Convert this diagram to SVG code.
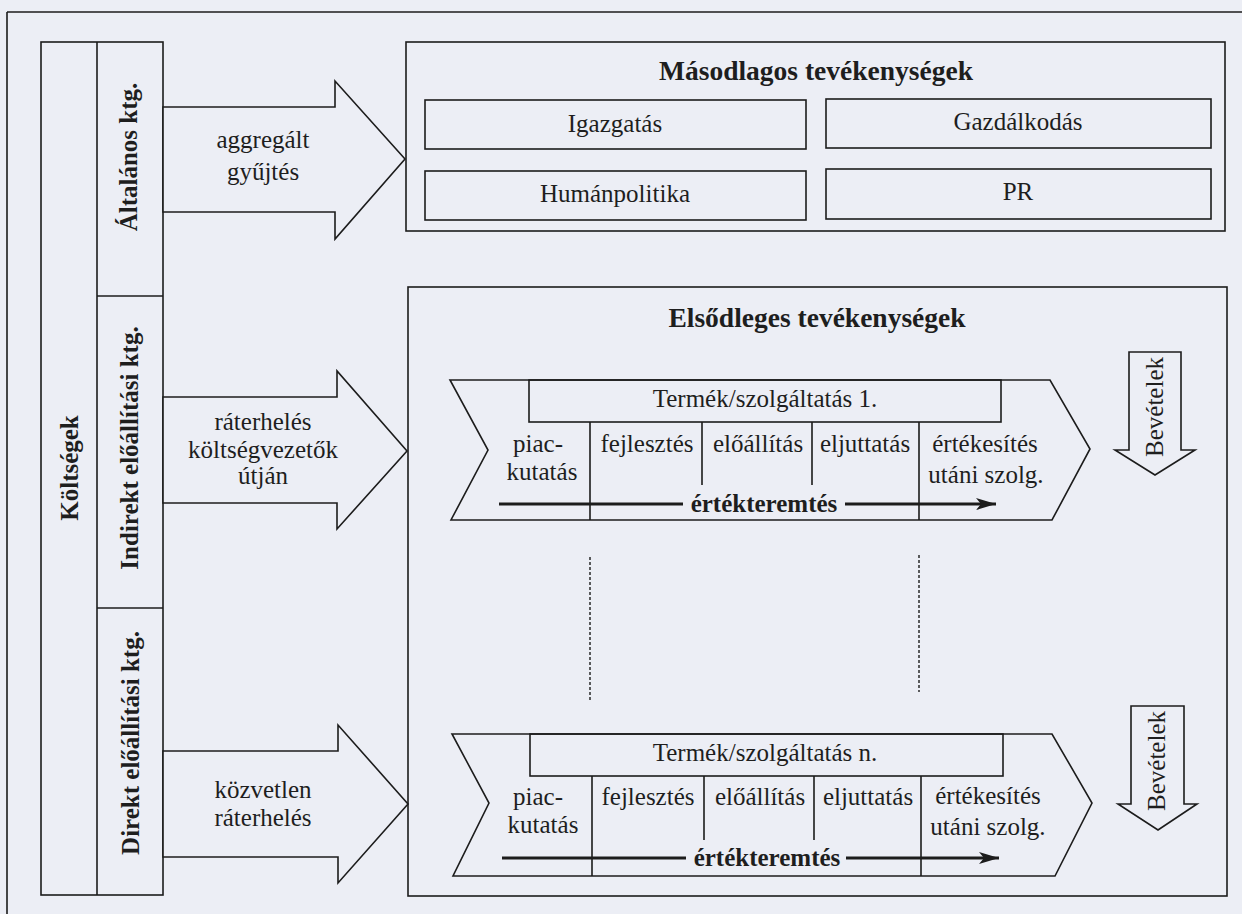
<svg xmlns="http://www.w3.org/2000/svg" width="1242" height="914" viewBox="0 0 1242 914">
<defs>
<style>
.ln{fill:none;stroke:#1c1c1c;stroke-width:1.6}
.sh{fill:#eceef5;stroke:#1c1c1c;stroke-width:1.6;stroke-linejoin:miter}
.t{font-family:"Liberation Serif","Times New Roman",serif;font-size:25px;fill:#1e1e1e;text-anchor:middle}
.b{font-weight:bold}
.h{font-size:27.5px}
.dot{fill:none;stroke:#1c1c1c;stroke-width:1.4;stroke-dasharray:3 2}
.vt{fill:none;stroke:#1c1c1c;stroke-width:3}
</style>
<marker id="ah" viewBox="0 0 20 12" refX="20" refY="6" markerWidth="20" markerHeight="12" markerUnits="userSpaceOnUse" orient="auto">
<path d="M0,0 L20,6 L0,12 L5,6 Z" fill="#1c1c1c"/>
</marker>
</defs>
<rect x="0" y="0" width="1242" height="914" fill="#eceef5"/>
<g id="frame">
<path class="ln" d="M7,12 L1242,12 M7,12 L7,914"/>
</g>
<g id="koltsegek">
<rect class="ln" x="41" y="42" width="122" height="853"/>
<line class="ln" x1="97" y1="42" x2="97" y2="895"/>
<text class="t b" transform="translate(78,468) rotate(-90)">Költségek</text>
</g>
<g id="altalanos">
<line class="ln" x1="97" y1="296" x2="163" y2="296"/>
<text class="t b" transform="translate(137,157) rotate(-90)">Általános ktg.</text>
</g>
<g id="indirekt">
<line class="ln" x1="97" y1="608" x2="163" y2="608"/>
<text class="t b" transform="translate(138,448) rotate(-90)">Indirekt előállítási ktg.</text>
</g>
<g id="direkt">
<text class="t b" transform="translate(139,743) rotate(-90)">Direkt előállítási ktg.</text>
</g>
<g id="connectors">
<g id="arrow-aggregalt">
<polygon class="sh" points="163,107 335,107 335,81 405,159 335,239 335,212 163,212"/>
<text class="t" x="263" y="148">aggregált</text>
<text class="t" x="263" y="180">gyűjtés</text>
</g>
<g id="arrow-raterheles">
<polygon class="sh" points="163,397 337,397 337,371 407,451 337,529 337,503 163,503"/>
<text class="t" x="263" y="430">ráterhelés</text>
<text class="t" x="263" y="458">költségvezetők</text>
<text class="t" x="263" y="484">útján</text>
</g>
<g id="arrow-kozvetlen">
<polygon class="sh" points="163,751 338,751 338,725 408,804 338,883 338,857 163,857"/>
<text class="t" x="263" y="798">közvetlen</text>
<text class="t" x="263" y="826">ráterhelés</text>
</g>
<line class="dot" x1="590" y1="557" x2="590" y2="700"/>
<line class="dot" x1="919" y1="555" x2="919" y2="692"/>
</g>
<g id="masodlagos">
<rect class="ln" x="406" y="42" width="819" height="189"/>
<text class="t b h" x="816" y="80">Másodlagos tevékenységek</text>
<rect class="ln" x="425" y="100" width="381" height="49"/>
<text class="t" x="615" y="132">Igazgatás</text>
<rect class="ln" x="425" y="171" width="381" height="49"/>
<text class="t" x="615" y="202">Humánpolitika</text>
<rect class="ln" x="826" y="99" width="385" height="49"/>
<text class="t" x="1018" y="130">Gazdálkodás</text>
<rect class="ln" x="826" y="169" width="385" height="50"/>
<text class="t" x="1018" y="200">PR</text>
</g>
<g id="elsodleges">
<rect class="ln" x="408" y="287" width="819" height="609"/>
<text class="t b h" x="817" y="327">Elsődleges tevékenységek</text>
</g>
<g id="termek1">
<polygon class="sh" points="450,380 1050,380 1090,449 1052,520 451,520 488,450"/>
<rect class="ln" x="529" y="380" width="472" height="42"/>
<text class="t" x="765" y="407">Termék/szolgáltatás 1.</text>
<path class="ln" d="M590,422 V520 M702,422 V485 M812,422 V485 M919,422 V520"/>
<text class="t" x="538" y="452">piac-</text>
<text class="t" x="542" y="480">kutatás</text>
<text class="t" x="647" y="452">fejlesztés</text>
<text class="t" x="758" y="452">előállítás</text>
<text class="t" x="865" y="452">eljuttatás</text>
<text class="t" x="985" y="452">értékesítés</text>
<text class="t" x="986" y="483">utáni szolg.</text>
<line class="vt" x1="499" y1="504" x2="683" y2="504"/>
<text class="t b" x="764" y="512">értékteremtés</text>
<line class="vt" x1="845" y1="504" x2="996" y2="504" marker-end="url(#ah)"/>
</g>
<g id="termekn">
<polygon class="sh" points="452,734 1052,734 1092,803 1055,876 453,876 489,803"/>
<rect class="ln" x="530" y="734" width="473" height="42"/>
<text class="t" x="765" y="761">Termék/szolgáltatás n.</text>
<path class="ln" d="M592,776 V876 M704,776 V840 M814,776 V840 M921,776 V876"/>
<text class="t" x="538" y="805">piac-</text>
<text class="t" x="543" y="833">kutatás</text>
<text class="t" x="648" y="805">fejlesztés</text>
<text class="t" x="760" y="805">előállítás</text>
<text class="t" x="868" y="805">eljuttatás</text>
<text class="t" x="988" y="804">értékesítés</text>
<text class="t" x="988" y="835">utáni szolg.</text>
<line class="vt" x1="502" y1="858" x2="686" y2="858"/>
<text class="t b" x="767" y="866">értékteremtés</text>
<line class="vt" x1="846" y1="858" x2="999" y2="858" marker-end="url(#ah)"/>
</g>
<g id="bevetelek1">
<polygon class="sh" points="1129,352 1181,352 1181,450 1195,450 1155,475 1115,450 1129,450"/>
<text class="t" transform="translate(1163,407) rotate(-90)">Bevételek</text>
</g>
<g id="bevetelek2">
<polygon class="sh" points="1131,706 1184,706 1184,804 1197,804 1158,830 1118,804 1131,804"/>
<text class="t" transform="translate(1165,761) rotate(-90)">Bevételek</text>
</g>
</svg>
